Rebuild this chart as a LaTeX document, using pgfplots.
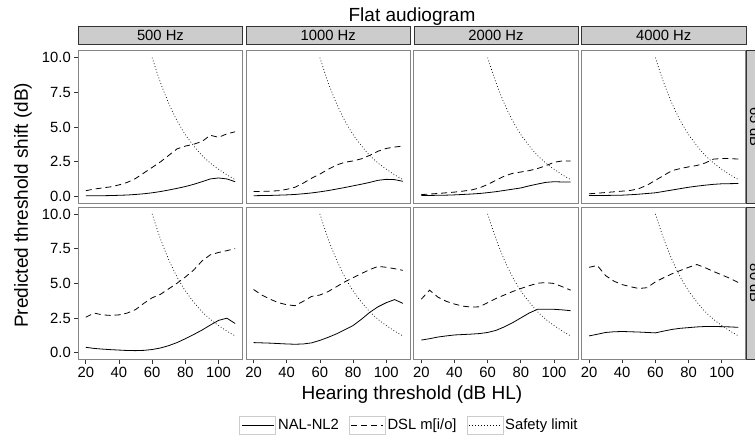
\documentclass[border=0pt]{standalone}
\usepackage{pgfplots}
\pgfplotsset{compat=1.18}
\usepackage{pgfplotstable}
\usepackage{fontspec}
\setmainfont{Liberation Sans}
\usetikzlibrary{calc}
\definecolor{stripfill}{HTML}{CCCCCC}
\definecolor{stripdraw}{HTML}{333333}
\definecolor{panelborder}{HTML}{858585}
\newcommand\smallfont{\fontsize{14.8bp}{16bp}\selectfont}
\newcommand\bigfont{\fontsize{19bp}{21bp}\selectfont}

\pgfplotstableread{
x nal dsl
20 0.03 0.40
25 0.03 0.52
30 0.04 0.60
35 0.05 0.68
40 0.07 0.82
45 0.09 1.00
50 0.13 1.28
55 0.18 1.68
60 0.25 2.08
65 0.34 2.48
70 0.45 2.95
75 0.57 3.42
80 0.70 3.62
85 0.86 3.75
90 1.05 3.95
95 1.25 4.40
100 1.32 4.25
105 1.25 4.50
110 1.05 4.65
}\tA
\pgfplotstableread{
x nal dsl
20 0.04 0.35
25 0.05 0.35
30 0.06 0.37
35 0.08 0.40
40 0.10 0.50
45 0.13 0.65
50 0.18 0.95
55 0.24 1.30
60 0.32 1.60
65 0.41 1.95
70 0.52 2.25
75 0.63 2.45
80 0.75 2.55
85 0.87 2.70
90 1.00 2.95
95 1.15 3.25
100 1.22 3.45
105 1.20 3.55
110 1.08 3.62
}\tB
\pgfplotstableread{
x nal dsl
20 0.05 0.12
25 0.06 0.16
30 0.07 0.20
35 0.08 0.25
40 0.10 0.30
45 0.13 0.37
50 0.16 0.45
55 0.20 0.60
60 0.26 0.85
65 0.33 1.15
70 0.42 1.45
75 0.51 1.65
80 0.60 1.75
85 0.75 1.85
90 0.88 2.00
95 1.00 2.20
100 1.05 2.45
105 1.03 2.55
110 1.03 2.55
}\tC
\pgfplotstableread{
x nal dsl
20 0.05 0.18
25 0.05 0.22
30 0.06 0.27
35 0.07 0.32
40 0.08 0.37
45 0.11 0.42
50 0.15 0.55
55 0.20 0.80
60 0.25 1.15
65 0.35 1.50
70 0.45 1.85
75 0.55 2.00
80 0.65 2.12
85 0.73 2.22
90 0.80 2.40
95 0.86 2.68
100 0.90 2.72
105 0.91 2.72
110 0.92 2.68
}\tD
\pgfplotstableread{
x nal dsl
20 0.38 2.55
25 0.30 2.85
30 0.25 2.72
35 0.21 2.68
40 0.18 2.72
45 0.15 2.85
50 0.14 3.10
55 0.16 3.55
60 0.22 3.95
65 0.33 4.20
70 0.50 4.60
75 0.72 5.00
80 1.00 5.45
85 1.30 5.95
90 1.62 6.60
95 1.98 7.05
100 2.32 7.22
105 2.48 7.35
110 2.10 7.50
}\tE
\pgfplotstableread{
x nal dsl
20 0.72 4.55
25 0.70 4.15
30 0.68 3.85
35 0.65 3.60
40 0.62 3.45
45 0.60 3.38
50 0.62 3.70
55 0.70 4.05
60 0.88 4.15
65 1.10 4.40
70 1.35 4.75
75 1.65 5.10
80 1.95 5.40
85 2.40 5.70
90 2.90 5.98
95 3.30 6.22
100 3.60 6.15
105 3.82 6.05
110 3.55 5.93
}\tF
\pgfplotstableread{
x nal dsl
20 0.90 3.85
25 1.00 4.50
30 1.12 4.00
35 1.20 3.70
40 1.27 3.50
45 1.30 3.35
50 1.33 3.28
55 1.37 3.30
60 1.45 3.60
65 1.60 3.90
70 1.85 4.15
75 2.15 4.40
80 2.50 4.62
85 2.85 4.82
90 3.12 5.00
95 3.13 5.05
100 3.12 4.98
105 3.08 4.75
110 3.02 4.50
}\tG
\pgfplotstableread{
x nal dsl
20 1.20 6.15
25 1.32 6.28
30 1.45 5.55
35 1.50 5.15
40 1.52 4.90
45 1.50 4.75
50 1.48 4.62
55 1.45 4.68
60 1.42 5.10
65 1.55 5.40
70 1.67 5.68
75 1.75 5.92
80 1.80 6.15
85 1.85 6.35
90 1.88 6.12
95 1.88 5.85
100 1.87 5.60
105 1.85 5.35
110 1.82 5.05
}\tH
\pgfplotstableread{
x s
60 10.00
65 8.20
70 6.70
75 5.45
80 4.45
85 3.65
90 2.95
95 2.40
100 1.95
105 1.55
110 1.20
}\tS

\pgfplotsset{
  panel/.style={
    scale only axis, width=164.3bp, height=152.5bp,
    anchor=south west,
    xmin=15.5, xmax=114.5, ymin=-0.5, ymax=10.5,
    axis line style={draw=panelborder, line width=0.8bp},
    tick align=outside, major tick length=4bp,
    tick style={draw=stripdraw, line width=0.7bp},
    tick pos=left,
    xtick=\empty, ytick=\empty,
    ticklabel style={font=\smallfont, text=black},
    title style={at={(0.5,1)}, anchor=south, fill=stripfill, draw=stripdraw,
      line width=0.6bp, minimum width=164.3bp, minimum height=18bp,
      inner sep=0pt, yshift=0bp, font=\smallfont},
  },
  bottomrow/.style={xtick={20,40,60,80,100}, xticklabels={20,40,60,80,100}},
  leftcol/.style={ytick={0,2.5,5,7.5,10}, yticklabels={0.0,2.5,5.0,7.5,10.0}},
  rightstrip/.style={
    after end axis/.code={
      \draw[fill=stripfill, draw=stripdraw, line width=0.6bp] (rel axis cs:1,0) ++(0.6bp,0) rectangle ++(18bp,152.5bp);
      \node[font=\smallfont, rotate=-90] at ($(rel axis cs:1,0.5)+(9.6bp,0)$) {#1};
    }
  },
  nalst/.style={black, line width=0.8bp, solid},
  dslst/.style={black, line width=0.8bp, dash pattern=on 6bp off 4bp},
  safst/.style={black, line width=0.7bp, dash pattern=on 0.8bp off 2.2bp},
}

\newcommand\panelplots[1]{%
  \addplot[nalst] table[x=x,y=nal] {#1};
  \addplot[dslst] table[x=x,y=dsl] {#1};
  \addplot[safst, smooth] table[x=x,y=s] {\tS};
}

\begin{document}
\begin{tikzpicture}
% row 1 (bottom at 441-203.2 = 237.8)
\begin{axis}[panel, leftcol, title={500 Hz}, at={(78.3bp,237.8bp)}]
\panelplots{\tA}
\end{axis}
\begin{axis}[panel, title={1000 Hz}, at={(246.05bp,237.8bp)}]
\panelplots{\tB}
\end{axis}
\begin{axis}[panel, title={2000 Hz}, at={(413.8bp,237.8bp)}]
\panelplots{\tC}
\end{axis}
\begin{axis}[panel, title={4000 Hz}, at={(581.55bp,237.8bp)}, rightstrip={65 dB}]
\panelplots{\tD}
\end{axis}
% row 2 (bottom at 441-359.5 = 81.5)
\begin{axis}[panel, leftcol, bottomrow, at={(78.3bp,81.5bp)},
  legend columns=3,
  legend style={at={(2.016,-0.4295)}, anchor=center, draw=none, fill=none,
    font=\smallfont, /tikz/every even column/.append style={column sep=8bp}},
  legend image code/.code={
    \draw[solid, draw=gray!40, fill=white, line width=0.6bp] (0bp,-9bp) rectangle (36bp,9bp);
    \draw[#1] (2bp,0bp) -- (34bp,0bp);
  },
]
\addplot[nalst] table[x=x,y=nal] {\tE};
\addlegendentry{NAL-NL2}
\addplot[dslst] table[x=x,y=dsl] {\tE};
\addlegendentry{DSL m[i/o]}
\addplot[safst, smooth] table[x=x,y=s] {\tS};
\addlegendentry{Safety limit}
\end{axis}
\begin{axis}[panel, bottomrow, at={(246.05bp,81.5bp)}]
\panelplots{\tF}
\end{axis}
\begin{axis}[panel, bottomrow, at={(413.8bp,81.5bp)}]
\panelplots{\tG}
\end{axis}
\begin{axis}[panel, bottomrow, at={(581.55bp,81.5bp)}, rightstrip={80 dB}]
\panelplots{\tH}
\end{axis}
% titles
\node[font=\bigfont] at (412bp,424bp) {Flat audiogram};
\node[font=\bigfont] at (412bp,46bp) {Hearing threshold (dB HL)};
\node[font=\bigfont, rotate=90] at (23bp,235.6bp) {Predicted threshold shift (dB)};
\pgfresetboundingbox
\useasboundingbox (0,0) rectangle (755bp,441bp);
\end{tikzpicture}
\end{document}
